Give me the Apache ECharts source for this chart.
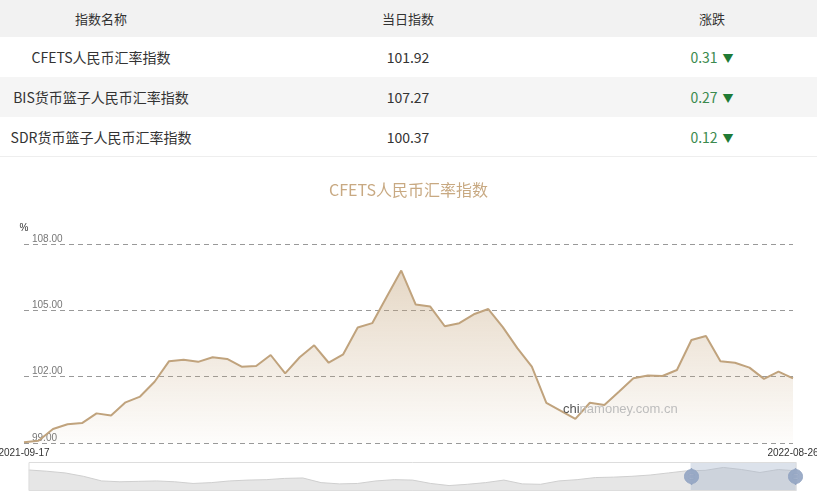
<!DOCTYPE html>
<html>
<head>
<meta charset="utf-8">
<script src="https://cdn.jsdelivr.net/npm/echarts@6/dist/echarts.min.js"></script>
<style>
  html, body { margin:0; padding:0; background:#fff; width:817px; height:500px; overflow:hidden; }
  #tbl { position:absolute; left:0; top:0; width:817px; height:160px; font-family:"Noto Sans CJK SC","Noto Sans",sans-serif; }
  .row { position:absolute; left:0; width:817px; height:40px; line-height:40px; color:#333; font-size:14px; }
  .row div { position:absolute; top:0; text-align:center; white-space:nowrap; }
  .c1 { left:0; width:202px; }
  .c2 { left:208px; width:400px; }
  .c3 { left:612px; width:200px; }
  .up { color:#3b8a4e; }
  .tri { color:#1f7a35; font-size:11px; margin-left:5px; }
  #chart { position:absolute; left:0; top:160px; width:817px; height:340px; }
</style>
</head>
<body>
<div id="tbl"></div>
<div id="chart"></div>
<script>
// ---- table data ----
var tableHeader = ['指数名称', '当日指数', '涨跌'];
var indexNames = ['CFETS人民币汇率指数', 'BIS货币篮子人民币汇率指数', 'SDR货币篮子人民币汇率指数'];
var indexValues = ['101.92', '107.27', '100.37'];
var indexChanges = ['0.31', '0.27', '0.12'];

// ---- chart data ----
var chartTitle = 'CFETS人民币汇率指数';
var dates = [
  '2021-09-17','2021-09-24','2021-09-30','2021-10-01','2021-10-08','2021-10-15','2021-10-22','2021-10-29',
  '2021-11-05','2021-11-12','2021-11-19','2021-11-26','2021-11-30','2021-12-03','2021-12-10','2021-12-17',
  '2021-12-24','2021-12-31','2022-01-07','2022-01-14','2022-01-21','2022-01-28','2022-02-04','2022-02-11',
  '2022-02-18','2022-02-25','2022-03-04','2022-03-11','2022-03-18','2022-03-25','2022-03-31','2022-04-01',
  '2022-04-08','2022-04-15','2022-04-22','2022-04-29','2022-05-06','2022-05-13','2022-05-20','2022-05-27',
  '2022-06-03','2022-06-10','2022-06-17','2022-06-24','2022-06-30','2022-07-01','2022-07-08','2022-07-15',
  '2022-07-22','2022-07-29','2022-08-05','2022-08-12','2022-08-19','2022-08-26'
];
var cfetsValues = [
  99.03, 99.10, 99.63, 99.85, 99.90, 100.34, 100.24, 100.84, 101.10, 101.77,
  102.70, 102.77, 102.67, 102.88, 102.80, 102.45, 102.48, 102.98, 102.15, 102.88,
  103.42, 102.63, 103.01, 104.22, 104.42, 105.61, 106.80, 105.26, 105.17, 104.28,
  104.42, 104.82, 105.06, 104.24, 103.29, 102.45, 100.82, 100.45, 100.09, 100.82,
  100.72, 101.32, 101.93, 102.05, 102.03, 102.30, 103.66, 103.84, 102.70, 102.63,
  102.41, 101.90, 102.23, 101.92
];
var yTicks = [99, 102, 105, 108];
// long history shown in the zoom slider background
var historyValues = [
  104.2, 103.9, 103.5, 102.7, 101.6, 101.4, 101.5, 101.6, 101.4, 101.0,
  101.2, 101.6, 101.8, 101.9, 102.2, 102.3, 101.2, 100.9, 101.0, 101.6,
  101.9, 101.8, 101.0, 100.5, 100.8, 101.2, 101.8, 100.9, 100.8, 101.6,
  101.9, 102.4, 102.5, 102.7, 103.0, 103.5, 104.0, 104.1, 104.8, 104.3,
  103.6, 104.3, 104.0
];

// build table
var tbl = document.getElementById('tbl');
var html = '<div class="row" style="top:0;height:37px;line-height:37px;background:#f2f2f2;font-size:13px;">' +
  '<div class="c1">' + tableHeader[0] + '</div><div class="c2">' + tableHeader[1] + '</div><div class="c3">' + tableHeader[2] + '</div></div>';
for (var i = 0; i < indexNames.length; i++) {
  var rowTop = 37 + i * 40;
  var bg = (i % 2 === 1) ? '#f5f5f5' : '#fff';
  html += '<div class="row" style="top:' + rowTop + 'px;background:' + bg + ';">' +
    '<div class="c1">' + indexNames[i] + '</div><div class="c2">' + indexValues[i] + '</div>' +
    '<div class="c3"><span class="up">' + indexChanges[i] + '</span><span class="tri">▼</span></div></div>';
}
html += '<div style="position:absolute;left:0;top:156px;width:817px;height:1px;background:#eee;"></div>';
tbl.innerHTML = html;

var chart = echarts.init(document.getElementById('chart'), null, { renderer: 'canvas' });
var lastIdx = dates.length - 1;
chart.setOption({
  animation: false,
  title: {
    text: chartTitle, left: 'center', top: 17,
    textStyle: { color: '#c8a982', fontSize: 16, fontWeight: 'normal', fontFamily: '"Noto Sans CJK SC", sans-serif' }
  },
  graphic: [{
    type: 'text', left: 563, top: 243, silent: true,
    style: {
      text: '{a|chi}{b|namoney.com.cn}',
      rich: {
        a: { fill: '#555', fontSize: 13, fontFamily: 'Arial, "Liberation Sans", sans-serif' },
        b: { fill: '#bdbdbd', fontSize: 13, fontFamily: 'Arial, "Liberation Sans", sans-serif' }
      }
    },
    z: 100
  }],
  grid: [
    { left: 24, right: 24, top: 84, bottom: 57, containLabel: false, outerBoundsMode: 'none' },
    { left: 26, right: 23, top: 302, height: 29, show: false, outerBoundsMode: 'none' }
  ],
  xAxis: [{
    type: 'category', data: dates, boundaryGap: false, gridIndex: 0,
    axisLine: { show: false }, axisTick: { show: false },
    axisLabel: {
      interval: function (idx) { return idx === 0 || idx === lastIdx; },
      color: '#333', fontSize: 10, margin: 5,
      fontFamily: 'Arial, "Liberation Sans", sans-serif'
    },
    splitLine: { show: false }
  }, {
    type: 'category', gridIndex: 1, show: false, boundaryGap: false,
    data: historyValues.map(function (v, i) { return i; })
  }],
  yAxis: [{
    type: 'value', min: yTicks[0], max: yTicks[yTicks.length - 1], interval: 3, gridIndex: 0,
    name: '%', nameLocation: 'end', nameGap: 11,
    nameTextStyle: { color: '#333', fontSize: 10, align: 'center' },
    axisLine: { show: false }, axisTick: { show: false },
    axisLabel: {
      inside: true, margin: 8, verticalAlign: 'bottom', color: '#777', fontSize: 10,
      fontFamily: 'Arial, "Liberation Sans", sans-serif',
      formatter: function (v) { return v.toFixed(2); }
    },
    splitLine: { show: true, lineStyle: { color: '#999', type: [5, 4], width: 1 } }
  }, {
    type: 'value', gridIndex: 1, show: false, scale: true
  }],
  dataZoom: [{
    type: 'slider', xAxisIndex: 1, start: 86.2, end: 100,
    left: 26, right: 23, top: 302, height: 29,
    showDetail: false, brushSelect: false, moveHandleSize: 0,
    borderColor: '#ddd', backgroundColor: '#fff',
    fillerColor: 'rgba(167,183,204,0.4)',
    handleIcon: 'path://M10.7,11.9v-1.3H9.3v1.3c-4.9,0.3-8.8,4.4-8.8,9.4c0,5,3.9,9.1,8.8,9.4v1.3h1.3v-1.3c4.9-0.3,8.8-4.4,8.8-9.4C19.5,16.3,15.6,12.2,10.7,11.9z M13.3,24.4H6.7V23h6.6V24.4z M13.3,19.6H6.7v-1.4h6.6V19.6z',
    handleSize: '55%',
    handleStyle: { color: '#92a4c2', borderColor: '#92a4c2', opacity: 0.9 },
    dataBackground: { lineStyle: { color: '#cfcfcf', width: 1 }, areaStyle: { color: '#e6e6e6', opacity: 1 } },
    selectedDataBackground: { lineStyle: { color: '#cfcfcf', width: 1 }, areaStyle: { color: '#e6e6e6', opacity: 1 } }
  }],
  series: [{
    type: 'line', data: cfetsValues, xAxisIndex: 0, yAxisIndex: 0,
    symbol: 'none', smooth: false,
    lineStyle: { color: '#c0a37d', width: 2 },
    areaStyle: {
      origin: 'start',
      color: new echarts.graphic.LinearGradient(0, 0, 0, 1, [
        { offset: 0, color: 'rgba(196,164,122,0.62)' },
        { offset: 1, color: 'rgba(196,164,122,0.04)' }
      ])
    }
  }, {
    type: 'line', data: historyValues, xAxisIndex: 1, yAxisIndex: 1,
    symbol: 'none', silent: true,
    lineStyle: { opacity: 0 }
  }]
});
</script>
</body>
</html>
